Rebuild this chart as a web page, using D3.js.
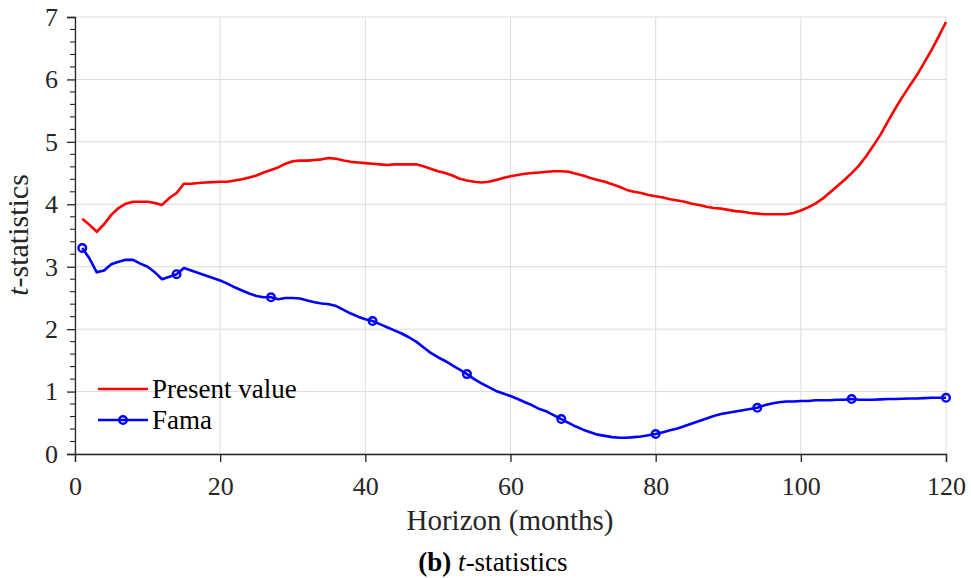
<!DOCTYPE html>
<html><head><meta charset="utf-8">
<script src="https://cdn.jsdelivr.net/npm/d3@7"></script></head><body style="margin:0">
<svg id="c" width="971" height="578"></svg>
<script>
const months = d3.range(1, 121);
const presentValue = [3.77,3.67,3.56,3.68,3.83,3.94,4.01,4.04,4.04,4.04,4.02,3.99,4.10,4.18,4.33,4.33,4.34,4.35,4.355,4.36,
4.36,4.38,4.40,4.43,4.46,4.51,4.55,4.59,4.65,4.69,4.70,4.70,4.71,4.72,4.74,4.73,4.70,4.68,4.67,4.66,
4.65,4.64,4.63,4.64,4.64,4.64,4.64,4.61,4.57,4.53,4.50,4.46,4.41,4.38,4.36,4.35,4.36,4.39,4.42,4.45,
4.47,4.49,4.50,4.51,4.52,4.53,4.53,4.52,4.49,4.46,4.42,4.39,4.36,4.32,4.28,4.23,4.20,4.18,4.15,4.13,
4.11,4.08,4.06,4.04,4.01,3.99,3.96,3.94,3.93,3.91,3.89,3.88,3.86,3.85,3.84,3.84,3.84,3.84,3.86,3.90,
3.95,4.01,4.09,4.19,4.29,4.39,4.50,4.62,4.77,4.94,5.12,5.33,5.53,5.72,5.90,6.07,6.27,6.47,6.69,6.92];
const fama = [3.30,3.13,2.91,2.94,3.04,3.08,3.11,3.11,3.05,3.00,2.91,2.80,2.84,2.88,2.98,2.94,2.90,2.86,2.82,2.78,
2.73,2.67,2.62,2.57,2.53,2.51,2.51,2.48,2.50,2.50,2.49,2.46,2.43,2.41,2.40,2.37,2.31,2.25,2.20,2.16,
2.13,2.08,2.03,1.98,1.93,1.87,1.80,1.71,1.62,1.55,1.49,1.42,1.35,1.28,1.20,1.13,1.07,1.01,0.97,0.93,
0.88,0.83,0.78,0.72,0.68,0.62,0.56,0.50,0.44,0.39,0.35,0.31,0.29,0.27,0.26,0.26,0.27,0.28,0.30,0.32,
0.35,0.38,0.41,0.45,0.49,0.53,0.57,0.61,0.64,0.66,0.68,0.70,0.72,0.74,0.78,0.81,0.83,0.84,0.84,0.85,
0.85,0.86,0.86,0.86,0.87,0.87,0.88,0.87,0.87,0.87,0.875,0.88,0.88,0.885,0.89,0.89,0.895,0.90,0.90,0.90];
const famaMarkerMonths = [1,14,27,41,54,67,80,94,107,120];
const xTicks = [0,20,40,60,80,100,120];
const yTicks = [0,1,2,3,4,5,6,7];
const seriesNames = ["Present value","Fama"];

const svg = d3.select("#c");
const L = 75, R = 946, T = 17, B = 454;
const x = d3.scaleLinear().domain([0,120]).range([L,R]);
const y = d3.scaleLinear().domain([0,7]).range([B,T]);
const FF = "Liberation Serif";
const axisCol = "#262626";

const g = svg.append("g");
g.selectAll(".gx").data(xTicks).join("line")
  .attr("x1", d=>x(d)).attr("x2", d=>x(d)).attr("y1", T).attr("y2", B)
  .attr("stroke", "#dcdcdc").attr("stroke-width", 1);
g.selectAll(".gy").data(yTicks).join("line")
  .attr("x1", L).attr("x2", R).attr("y1", d=>y(d)).attr("y2", d=>y(d))
  .attr("stroke", "#dcdcdc").attr("stroke-width", 1);

const xa = svg.append("g").attr("transform", `translate(0,${B})`)
  .call(d3.axisBottom(x).tickValues(xTicks).tickSize(8).tickPadding(15).tickFormat(d3.format("d")));
xa.attr("font-family", FF).attr("font-size", 26);
xa.select(".domain").attr("stroke", axisCol).attr("stroke-width", 1.3);
xa.selectAll(".tick line").attr("stroke", axisCol).attr("stroke-width", 1.3);
xa.selectAll("text").attr("fill", "#262626");

const ya = svg.append("g").attr("transform", `translate(${L},0)`)
  .call(d3.axisLeft(y).tickValues(yTicks).tickSize(8).tickPadding(9).tickFormat(d3.format("d")));
ya.attr("font-family", FF).attr("font-size", 26);
ya.select(".domain").attr("stroke", axisCol).attr("stroke-width", 1.3);
ya.selectAll(".tick line").attr("stroke", axisCol).attr("stroke-width", 1.3);
ya.selectAll("text").attr("fill", "#262626");
const minor = d3.range(0, 7.001, 0.2).filter(v => Math.abs(v - Math.round(v)) > 1e-6);
svg.append("g").selectAll("line").data(minor).join("line")
  .attr("x1", L - 5).attr("x2", L).attr("y1", d=>y(d)).attr("y2", d=>y(d))
  .attr("stroke", axisCol).attr("stroke-width", 1.1);

const line = d3.line().x(d=>x(d[0])).y(d=>y(d[1]));
const redData = months.map((m,i)=>[m, presentValue[i]]);
const blueData = months.map((m,i)=>[m, fama[i]]);
svg.append("path").datum(redData).attr("d", line).attr("fill","none")
  .attr("stroke","#ff0000").attr("stroke-width",2.6).attr("stroke-linejoin","round");
svg.append("path").datum(blueData).attr("d", line).attr("fill","none")
  .attr("stroke","#0000ff").attr("stroke-width",2.6).attr("stroke-linejoin","round");
svg.append("g").selectAll("circle").data(famaMarkerMonths).join("circle")
  .attr("cx", m=>x(m)).attr("cy", m=>y(fama[m-1])).attr("r", 3.8)
  .attr("fill","none").attr("stroke","#0000ff").attr("stroke-width",2.4);

const lg = svg.append("g");
const legY = [389, 420];
const legCol = ["#ff0000","#0000ff"];
seriesNames.forEach((n,i)=>{
  lg.append("line").attr("x1",98).attr("x2",148).attr("y1",legY[i]).attr("y2",legY[i])
    .attr("stroke",legCol[i]).attr("stroke-width",2.6);
  lg.append("text").attr("x",152).attr("y",legY[i]+9).text(n)
    .attr("font-family",FF).attr("font-size",27).attr("fill","#000");
});
lg.append("circle").attr("cx",123).attr("cy",legY[1]).attr("r",3.8)
  .attr("fill","none").attr("stroke","#0000ff").attr("stroke-width",2.4);

svg.append("text").attr("x", 510).attr("y", 530).attr("text-anchor","middle")
  .attr("font-family",FF).attr("font-size",29).attr("fill","#262626").text("Horizon (months)");
const yl = svg.append("text").attr("transform", `translate(28,235) rotate(-90)`)
  .attr("text-anchor","middle").attr("font-family",FF).attr("font-size",30).attr("fill","#262626");
yl.append("tspan").attr("font-style","italic").text("t");
yl.append("tspan").text("-statistics");

const cap = svg.append("text").attr("x", 493).attr("y", 571).attr("text-anchor","middle")
  .attr("font-family",FF).attr("font-size",27).attr("fill","#000");
cap.append("tspan").attr("font-weight","bold").text("(b)");
cap.append("tspan").text(" ");
cap.append("tspan").attr("font-style","italic").text("t");
cap.append("tspan").text("-statistics");
</script>
</body></html>
